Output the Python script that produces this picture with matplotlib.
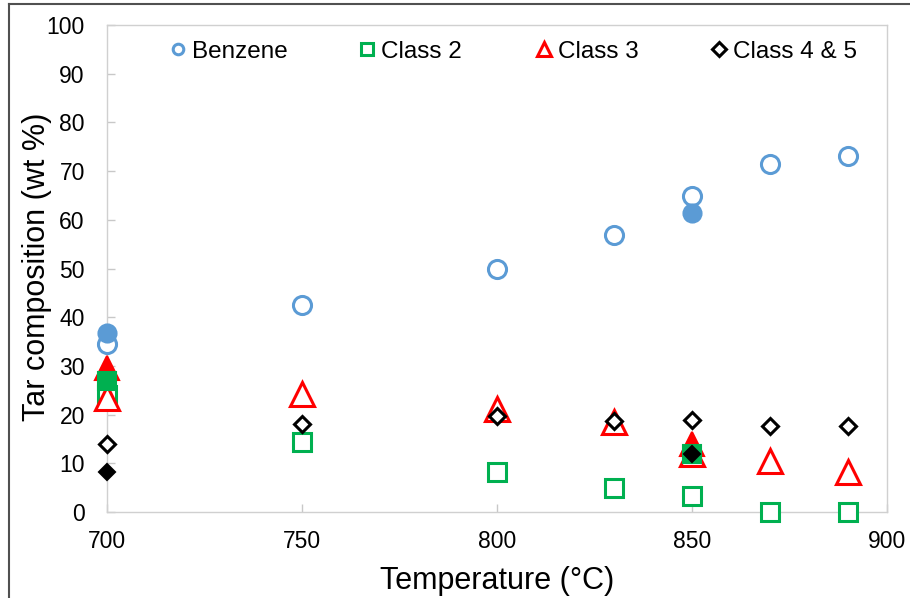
import matplotlib
matplotlib.use("Agg")
import matplotlib.pyplot as plt
from matplotlib.lines import Line2D
from matplotlib.legend import Legend

plt.rcParams['font.family'] = ['Liberation Sans', 'DejaVu Sans']

# model results (open markers)
temp_model = [700, 750, 800, 830, 850, 870, 890]
benzene_model = [34.4, 42.5, 49.9, 56.9, 64.8, 71.4, 73.2]
class2_model = [24.0, 14.4, 8.2, 5.0, 3.2, 0.0, 0.0]
class3_model = [23.5, 24.3, 21.2, 18.5, 12.0, 10.5, 8.2]
class45_model = [14.0, 18.1, 19.8, 18.6, 18.9, 17.7, 17.7]

# measured values (filled markers)
temp_exp = [700, 850]
benzene_exp = [36.8, 61.3]
class2_exp = [26.8, 12.0]
class3_exp = [29.5, 14.0]
class45_exp = [8.2, 11.9]

labels = ['Benzene', 'Class 2', 'Class 3', 'Class 4 & 5']
colors = ['#5B9BD5', '#00B050', '#FF0000', '#000000']
markers = ['o', 's', '^', 'D']
sizes = [13, 13, 17, 8.5]
leg_sizes = [7.6, 8.4, 10.5, 7.4]

fig = plt.figure(figsize=(9.1, 5.98), dpi=100)
ax = fig.add_axes([0.1176, 0.1438, 0.8571, 0.8144])

model = [benzene_model, class2_model, class3_model, class45_model]
for vals, c, m, s in zip(model, colors, markers, sizes):
    ax.plot(temp_model, vals, linestyle='none', marker=m, ms=s,
            mfc='white', mec=c, mew=2.2, clip_on=False, zorder=3)

# filled points drawn on top, red below green
exp = [benzene_exp, class3_exp, class2_exp, class45_exp]
order = [0, 2, 1, 3]
for vals, i in zip(exp, order):
    ax.plot(temp_exp, vals, linestyle='none', marker=markers[i], ms=sizes[i],
            mfc=colors[i], mec=colors[i], mew=1.5, clip_on=False, zorder=4)

ax.set_xlim(700, 900)
ax.set_ylim(0, 100)
ax.set_xticks(range(700, 901, 50))
ax.set_yticks(range(0, 101, 10))

for sp in ax.spines.values():
    sp.set_color('#d0d0d0')
    sp.set_linewidth(1.0)
ax.tick_params(direction='in', length=6, width=1.0, color='#c8c8c8',
               labelsize=16.5, labelcolor='black')
ax.tick_params(axis='y', pad=16)
ax.tick_params(axis='x', pad=13)

ax.set_xlabel('Temperature (°C)', fontsize=22, labelpad=9)
ax.set_ylabel('Tar composition (wt %)', fontsize=22)
ax.yaxis.set_label_coords(-0.071, 0.503)

# legend entries, one per series, spread along the top
leg_x = [168, 357, 534, 709]
for lab, c, m, s, lx in zip(labels, colors, markers, leg_sizes, leg_x):
    h = Line2D([], [], linestyle='none', marker=m, ms=s,
               mfc='white', mec=c, mew=2.2)
    leg = Legend(ax, [h], [lab], loc='center left',
                 bbox_to_anchor=((lx - 107) / 780, 0.9446),
                 frameon=False, fontsize=17.5, handlelength=0.8,
                 handletextpad=0.2, borderpad=0, borderaxespad=0)
    ax.add_artist(leg)

# outer frame edges
fig.add_artist(Line2D([9 / 910, 9 / 910], [0, 1 - 4 / 598],
                      color='#505050', lw=1.5))
fig.add_artist(Line2D([9 / 910, 1], [1 - 4 / 598, 1 - 4 / 598],
                      color='#505050', lw=1.5))

fig.savefig('out.png', dpi=100)
